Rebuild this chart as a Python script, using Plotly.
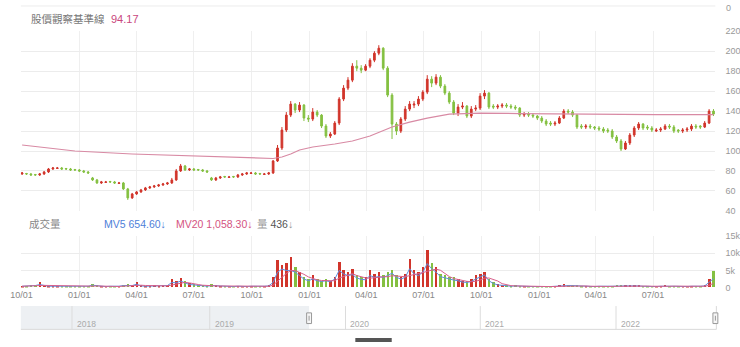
import pandas as pd
import plotly.graph_objects as go

# ---------------- data (weekly candles) ----------------
START_DATE = "2019-10-02"

closes = [
    78, 77, 76, 76, 77, 79, 82, 83,
    83, 82, 82, 81, 81, 80, 79, 78, 71, 68,
    69, 69, 69, 68, 68, 62, 53, 57, 59, 61,
    63, 64, 65, 66, 67, 68, 71, 80, 85, 81,
    82, 81, 81, 80, 79, 71, 73, 74, 74, 74,
    74, 76, 77, 78, 78, 77, 77, 77, 78, 90,
    103, 121, 136, 147, 141, 146, 133, 132, 139, 136,
    125, 115, 117, 128, 152, 163, 171, 185, 183, 181,
    185, 191, 198, 203, 183, 156, 127, 120, 132, 142,
    147, 147, 152, 159, 172, 168, 174, 165, 158, 149,
    138, 144, 145, 135, 142, 143, 155, 158, 144, 144,
    145, 146, 145, 144, 143, 136, 137, 136, 135, 133,
    130, 127, 127, 128, 133, 140, 139, 136, 124, 124,
    125, 124, 123, 122, 120, 120, 114, 110, 102, 108,
    116, 123, 127, 123, 123, 121, 121, 122, 125, 124,
    120, 120, 121, 122, 125, 124, 124, 128, 140, 137,
]
opens = [
    77, 77.5, 77, 76.5, 76, 77, 79, 82,
    82.5, 83, 82.5, 82, 81.5, 81, 80, 79, 73, 71,
    68, 68.5, 69.5, 69, 67.5, 68, 62, 53, 57, 59,
    61, 63, 64, 65, 66, 67, 68, 71, 80, 85,
    81, 82, 81.5, 81, 80, 73, 71, 73, 74.5, 73.5,
    74.5, 74, 76, 77, 77.5, 78, 77.5, 76.5, 77, 78,
    90, 103, 121, 136, 147, 141, 146, 133, 132, 139,
    136, 125, 115, 117, 128, 152, 163, 171, 185, 183,
    181, 185, 191, 198, 203, 183, 156, 127, 120, 132,
    142, 146, 147, 152, 159, 172, 168, 174, 165, 158,
    149, 138, 144, 145, 135, 142, 143, 155, 158, 145,
    144, 145, 146, 145, 144, 143, 136, 137, 136, 135,
    133, 130, 128, 127, 128, 133, 140, 139, 136, 125,
    124, 125, 124, 123, 122, 121, 120, 114, 110, 102,
    108, 116, 123, 127, 124, 123, 120, 121, 122, 125,
    124, 121, 120, 121, 122, 125, 125, 124, 128, 140,
]
highs = [
    79, 78, 78, 77, 78, 80, 83, 84,
    84, 84, 83, 83, 82, 82, 81, 80, 74, 72,
    70, 70, 70, 70, 69, 69, 63, 58, 60, 62,
    64, 65, 66, 67, 68, 69, 73, 82, 87, 86,
    83, 83, 82, 82, 81, 74, 74, 75, 75, 75,
    75, 77, 78, 79, 79, 79, 78, 78, 79, 91,
    106, 124, 139, 150, 148, 149, 147, 136, 143, 141,
    137, 127, 119, 130, 154, 166, 174, 188, 191, 186,
    187, 193, 200, 206, 204, 185, 158, 129, 134, 145,
    150, 150, 155, 161, 176, 175, 177, 176, 167, 160,
    151, 147, 149, 146, 145, 146, 158, 161, 159, 147,
    147, 148, 148, 147, 146, 144, 139, 139, 138, 136,
    135, 132, 130, 130, 135, 142, 142, 141, 137, 127,
    127, 127, 125, 125, 124, 123, 122, 116, 112, 110,
    118, 125, 129, 128, 126, 125, 123, 124, 127, 127,
    126, 122, 123, 124, 127, 127, 126, 130, 142, 142,
]
lows = [
    76, 76, 75, 75, 75, 76, 78, 81,
    82, 81, 81, 80, 80, 79, 78, 77, 70, 67,
    67, 68, 68, 67, 67, 61, 51, 52, 56, 58,
    60, 62, 63, 64, 65, 66, 67, 70, 79, 80,
    80, 80, 80, 79, 78, 70, 70, 72, 73, 73,
    73, 73, 75, 76, 77, 76, 76, 76, 76, 77,
    89, 101, 119, 134, 138, 139, 130, 129, 130, 134,
    123, 113, 113, 116, 126, 150, 161, 169, 180, 178,
    180, 183, 189, 196, 181, 154, 112, 116, 118, 130,
    140, 143, 145, 150, 157, 164, 166, 163, 156, 147,
    136, 135, 142, 133, 133, 140, 141, 152, 142, 142,
    142, 143, 143, 142, 141, 134, 134, 134, 133, 131,
    128, 125, 125, 125, 127, 132, 137, 134, 122, 122,
    122, 122, 121, 120, 118, 118, 112, 108, 100, 101,
    106, 114, 121, 121, 121, 119, 119, 119, 121, 122,
    118, 118, 118, 119, 120, 122, 122, 123, 127, 135,
]
volume_k = [
    0.5, 0.5, 0.6, 0.8, 1.7, 0.6, 0.5, 0.4,
    0.5, 0.4, 0.4, 0.4, 0.5, 0.4, 0.4, 0.5, 1.1, 0.6,
    0.4, 0.4, 0.5, 0.4, 0.5, 0.8, 1.0, 0.7, 1.7, 0.6,
    0.5, 0.5, 0.6, 0.5, 0.6, 0.8, 2.6, 2.0, 2.9, 1.8,
    1.2, 1.0, 0.8, 0.6, 0.5, 0.9, 0.6, 0.5, 0.5, 0.4,
    0.4, 0.5, 0.4, 0.4, 0.5, 0.4, 0.5, 0.5, 0.6, 3.0,
    8.0, 6.5, 7.0, 8.9, 6.0, 4.5, 3.0, 2.5, 3.5, 2.5,
    2.0, 2.5, 2.0, 3.0, 7.4, 5.0, 4.5, 5.4, 3.5, 3.0,
    3.0, 5.1, 4.0, 4.5, 3.5, 4.5, 5.0, 3.5, 3.0, 4.0,
    8.3, 5.0, 4.5, 6.0, 11.0, 7.0, 6.0, 4.0, 3.5, 3.0,
    3.0, 2.5, 2.0, 2.0, 2.5, 3.5, 4.0, 4.5, 2.5, 1.5,
    1.0, 0.8, 0.6, 0.5, 0.6, 0.5, 0.5, 0.4, 0.4, 0.4,
    0.5, 0.4, 0.4, 0.5, 0.6, 0.9, 0.7, 0.8, 0.6, 0.5,
    0.5, 0.4, 0.4, 0.5, 0.4, 0.5, 0.5, 0.6, 0.7, 0.6,
    0.6, 0.8, 0.6, 0.5, 0.4, 0.5, 0.4, 0.5, 0.6, 0.5,
    0.5, 0.4, 0.4, 0.4, 0.5, 0.4, 0.5, 0.6, 2.5, 4.9,
]
mv5_k = [
    0.4, 0.4, 0.5, 0.6, 0.9, 0.6, 0.4, 0.4,
    0.4, 0.4, 0.3, 0.3, 0.4, 0.3, 0.3, 0.4, 0.7, 0.5,
    0.4, 0.3, 0.4, 0.3, 0.4, 0.6, 0.7, 0.6, 1.0, 0.5,
    0.4, 0.4, 0.5, 0.4, 0.5, 0.6, 1.5, 1.4, 1.9, 1.3,
    0.9, 0.8, 0.6, 0.5, 0.4, 0.6, 0.5, 0.4, 0.4, 0.3,
    0.3, 0.4, 0.3, 0.3, 0.4, 0.3, 0.4, 0.4, 0.5, 1.5,
    4.5, 5.4, 5.0, 5.0, 4.5, 3.5, 2.5, 2.0, 2.5, 2.0,
    1.8, 2.0, 1.7, 2.5, 5.0, 4.0, 3.5, 3.8, 2.8, 2.4,
    2.3, 3.5, 3.0, 3.2, 3.0, 3.5, 4.2, 3.0, 2.5, 3.0,
    5.5, 4.0, 3.5, 4.5, 7.0, 5.5, 4.5, 3.2, 2.8, 2.4,
    2.2, 2.0, 1.6, 1.5, 1.8, 2.5, 3.0, 3.7, 2.0, 1.2,
    0.8, 0.6, 0.5, 0.4, 0.5, 0.4, 0.4, 0.3, 0.3, 0.3,
    0.4, 0.3, 0.3, 0.4, 0.5, 0.7, 0.6, 0.6, 0.5, 0.4,
    0.4, 0.3, 0.3, 0.4, 0.3, 0.4, 0.4, 0.5, 0.5, 0.5,
    0.5, 0.6, 0.5, 0.4, 0.3, 0.4, 0.3, 0.4, 0.5, 0.4,
    0.4, 0.3, 0.3, 0.3, 0.4, 0.3, 0.4, 0.5, 1.5, 2.6,
]

baseline_dates = [
    "2019-10-02", "2019-12-25", "2020-03-25", "2020-07-01", "2020-09-30",
    "2020-11-04", "2020-11-18", "2020-12-02", "2020-12-16", "2021-01-06",
    "2021-02-10", "2021-03-10", "2021-04-07", "2021-04-28", "2021-05-12",
    "2021-06-09", "2021-07-07", "2021-08-11", "2021-09-29", "2021-12-01",
    "2022-02-09", "2022-04-06", "2022-07-06", "2022-10-05",
]
baseline_values = [
    106, 100, 97, 95, 93.5,
    92.5, 94, 97, 101, 104,
    107, 110, 115, 120, 124,
    129, 133, 137, 138, 137.5,
    137, 136.5, 136.5, 136.5,
]

x_tick_dates = [
    "2019-10-01", "2020-01-01", "2020-04-01", "2020-07-01", "2020-10-01",
    "2021-01-01", "2021-04-01", "2021-07-01", "2021-10-01", "2022-01-01",
    "2022-04-01", "2022-07-01",
]
x_tick_text = ["10/01", "01/01", "04/01", "07/01", "10/01", "01/01",
               "04/01", "07/01", "10/01", "01/01", "04/01", "07/01"]
volume_ticks = [0, 5000, 10000, 15000]
volume_tick_text = ["0", "5k", "10k", "15k"]
nav_years = ["2018", "2019", "2020", "2021", "2022"]

header_label = "股價觀察基準線"
header_value = "94.17"
vol_label = "成交量"
mv5_label = "MV5 654.60↓"
mv20_label = "MV20 1,058.30↓"
vol_now = "436"

n = len(closes)
assert all(len(a) == n for a in (opens, highs, lows, volume_k, mv5_k))
dates = pd.date_range(START_DATE, periods=n, freq="7D")

volume = [v * 1000 for v in volume_k]
mv5 = [v * 1000 for v in mv5_k]
mv20 = pd.Series(mv5).rolling(4, min_periods=1).mean().tolist()

RED = "#d1352b"
GREEN = "#84c041"
bar_colors = [RED if c >= o else GREEN for o, c in zip(opens, closes)]

W, H = 740, 347
def X(px):
    return px / W
def Y(py):
    return 1 - py / H

FONT = "Liberation Sans, Noto Sans CJK TC, sans-serif"

fig = go.Figure()

fig.add_trace(go.Scatter(
    x=pd.to_datetime(baseline_dates), y=baseline_values, mode="lines",
    line=dict(color="#d88aa4", width=1.2), xaxis="x", yaxis="y", hoverinfo="skip"))

fig.add_trace(go.Candlestick(
    x=dates, open=opens, high=highs, low=lows, close=closes,
    increasing=dict(line=dict(color=RED, width=1), fillcolor=RED),
    decreasing=dict(line=dict(color=GREEN, width=1), fillcolor=GREEN),
    whiskerwidth=0, xaxis="x", yaxis="y"))

fig.add_trace(go.Bar(
    x=dates, y=volume, marker=dict(color=bar_colors, line=dict(width=0)),
    width=4.0 * 86400000, xaxis="x2", yaxis="y2"))
fig.add_trace(go.Scatter(
    x=dates, y=mv5, mode="lines", line=dict(color="#5f8fe0", width=1),
    xaxis="x2", yaxis="y2"))
fig.add_trace(go.Scatter(
    x=dates, y=mv20, mode="lines", line=dict(color="#d8608c", width=1),
    xaxis="x2", yaxis="y2"))

x_range = ["2019-09-30", "2022-10-08"]
common_x = dict(
    type="date", range=x_range, domain=[X(10), X(716)],
    showgrid=True, gridcolor="#efefef", gridwidth=1,
    tickmode="array", tickvals=pd.to_datetime(x_tick_dates), ticktext=x_tick_text,
    zeroline=False, showline=False, ticks="", fixedrange=True,
    ticklabeloverflow="allow",
)

fig.update_layout(
    width=W, height=H, margin=dict(l=0, r=0, t=0, b=0),
    paper_bgcolor="white", plot_bgcolor="white", showlegend=False,
    font=dict(family=FONT, size=9, color="#999"),
    boxgap=0.45,
    xaxis=dict(common_x, anchor="y", showticklabels=False,
               rangeslider=dict(visible=False)),
    yaxis=dict(domain=[Y(212), Y(27)], range=[40, 220], dtick=20,
               side="right", showgrid=True, gridcolor="#ececec",
               zeroline=False, tickfont=dict(size=9, color="#999"),
               ticklabelstandoff=9, anchor="x"),
    xaxis2=dict(common_x, anchor="y2", matches="x", showticklabels=True,
                tickfont=dict(size=9, color="#888")),
    yaxis2=dict(domain=[Y(291), Y(238)], range=[0, 15000],
                tickvals=volume_ticks, ticktext=volume_tick_text,
                side="right", showgrid=True, gridcolor="#ececec",
                zeroline=False, tickfont=dict(size=9, color="#999"),
                ticklabelstandoff=9, anchor="x2"),
    bargap=0,
)

ann = []
def text(px, py, s, color, size=10.5, anchor="left"):
    ann.append(dict(x=X(px), y=Y(py), xref="paper", yref="paper", text=s,
                    showarrow=False, xanchor=anchor, yanchor="middle",
                    font=dict(size=size, color=color, family=FONT)))

text(18, 14, header_label, "#777", 10.5)
text(100, 14, header_value, "#c9477d", 11)
text(16, 226, vol_label, "#888", 10.5)
text(92, 226, mv5_label, "#4f7fd9", 10.5)
text(166, 226, mv20_label, "#d4537f", 10.5)
text(248, 226, "<span style='color:#999'>量</span> " + vol_now +
     "<span style='color:#999'>↓</span>", "#555", 10.5)
text(725, 3, "0", "#999", 9)

nav_div_px = [62, 202, 340, 477, 615]
for yr, xp in zip(nav_years, nav_div_px):
    text(xp + 3, 328, yr, "#aaa", 8.5)

fig.update_layout(annotations=ann)

shapes = []
def rect(x0, y0, x1, y1, fill, line_color=None, lw=0):
    shapes.append(dict(type="rect", xref="paper", yref="paper",
                       x0=X(x0), x1=X(x1), y0=Y(y1), y1=Y(y0),
                       fillcolor=fill, line=dict(color=line_color or fill, width=lw),
                       layer="above"))
def hline(x0, x1, y, color, lw=1):
    shapes.append(dict(type="line", xref="paper", yref="paper",
                       x0=X(x0), x1=X(x1), y0=Y(y), y1=Y(y),
                       line=dict(color=color, width=lw)))
def vline(x, y0, y1, color, lw=1):
    shapes.append(dict(type="line", xref="paper", yref="paper",
                       x0=X(x), x1=X(x), y0=Y(y0), y1=Y(y1),
                       line=dict(color=color, width=lw)))

hline(10, 716, 1, "#ececec")
# navigator
rect(10, 310, 303, 334, "#edf0f3")
hline(10, 717, 334, "#d9d9d9")
vline(717, 310, 334, "#d9d9d9")
for xp in nav_div_px:
    vline(xp, 310, 334, "#dcdcdc")
for hx in (303, 716):
    rect(hx - 2.5, 317, hx + 2.5, 328, "#f6f6f6", "#999", 1)
    vline(hx, 320, 325, "#999")
rect(350, 343, 387, 347, "#555")

fig.update_layout(shapes=shapes)

fig.write_html("out.html")
